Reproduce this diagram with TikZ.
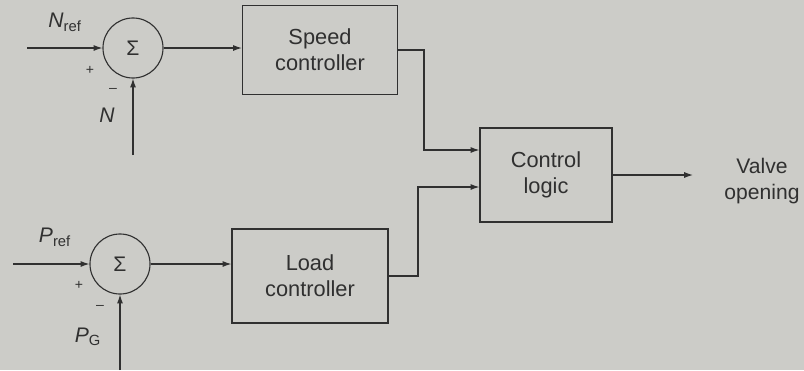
\documentclass[tikz,border=0pt]{standalone}
\usepackage{fontspec}
\setmainfont{Liberation Sans}
\usepackage{tikz}
\usetikzlibrary{positioning, calc, arrows.meta}
\definecolor{paperGray}{RGB}{204, 204, 200}
\definecolor{inkGray}{RGB}{48, 48, 48}

\begin{document}
\begin{tikzpicture}[
    x=0.025cm, y=-0.025cm,
    sumnode/.style={circle, draw=inkGray, thick, minimum size=1.5cm,
                    inner sep=0pt, text=inkGray, font=\fontsize{15}{18}\selectfont},
    ctrlbox/.style={rectangle, draw=inkGray, thick, align=center,
                    minimum height=2.35cm, text=inkGray,
                    font=\fontsize{15.5}{18.5}\selectfont},
    sig/.style={draw=inkGray, thick, -{Latex[length=0.22cm, width=0.15cm]}},
    lbl/.style={text=inkGray, font=\fontsize{15}{18}\selectfont},
    sgn/.style={text=inkGray, font=\fontsize{10}{12}\selectfont},
  ]
    % paper and frame
    \fill[paperGray] (0,0) rectangle (804,370);
    \useasboundingbox (0,0) rectangle (804,370);

    % summing junctions
    \node[sumnode] (s1) at (133,48) {Σ};
    \node[sumnode] (s2) at (120,264) {Σ};

    % blocks
    \node[ctrlbox, minimum width=3.875cm, minimum height=2.225cm] (spd) at (320,50) {Speed\\controller};
    \node[ctrlbox, minimum width=3.9cm] (lod) at (310,276) {Load\\controller};
    \node[ctrlbox, minimum width=3.3cm] (ctl) at (546,175) {Control\\logic};

    % free ends and bends
    \coordinate (nin) at (27,48);
    \coordinate (nfb) at (133,155);
    \coordinate (pin) at (13,264);
    \coordinate (pfb) at (120,370);
    \coordinate (j1) at (424,150);
    \coordinate (j2) at (418,187);
    \coordinate (vout) at (693,175);

    % signals
    \draw[sig] (nin) -- (s1.west);
    \draw[sig] (nfb) -- (s1.south);
    \draw[sig] (s1.east) -- (s1.east -| spd.west);
    \draw[sig] (pin) -- (s2.west);
    \draw[sig] (pfb) -- (s2.south);
    \draw[sig] (s2.east) -- (s2.east -| lod.west);
    \draw[sig] (spd.east) -| (j1) -- (j1 -| ctl.west);
    \draw[sig] (lod.east) -| (j2) -- (j2 -| ctl.west);
    \draw[sig] (ctl.east) -- (vout);

    % labels
    \node[lbl] (nrefl) at (65,22) {\textit{N}\textsubscript{ref}};
    \node[sgn] (np) at (90,70) {+};
    \node[sgn] (nm) at (113,90) {\textendash};
    \node[lbl] (nl) at (107,115) {\textit{N}};
    \node[lbl] (prefl) at (55,237) {\textit{P}\textsubscript{ref}};
    \node[sgn] (pp) at (79,285) {+};
    \node[sgn] (pm) at (100,307) {\textendash};
    \node[lbl] (pgl) at (88,337) {\textit{P}\textsubscript{G}};
    \node[lbl, align=center, font=\fontsize{15}{18.5}\selectfont] (valve) at (762,181) {Valve\\opening};
  \end{tikzpicture}
\end{document}
